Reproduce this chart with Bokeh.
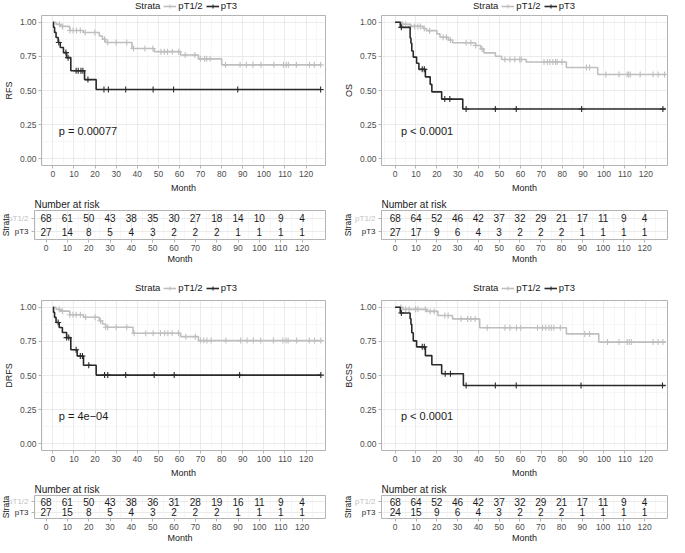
from bokeh.plotting import figure
from bokeh.models import FixedTicker, Legend, LegendItem, Label, ColumnDataSource
from bokeh.layouts import row, column
from bokeh.embed import file_html
from bokeh.resources import INLINE
from bokeh.core.properties import value
import numpy as np

FONT = "Liberation Sans"
GREY = "#bfbfbf"
DARK = "#2a2a2a"
TICKC = "#4d4d4d"
TEXTC = "#1a1a1a"

strata = ["pT1/2", "pT3"]
risk_times = [0, 10, 20, 30, 40, 50, 60, 70, 80, 90, 100, 110, 120]

# ---------------- RFS ----------------
rfs_a_t = [1.5, 3.5, 8, 14.5, 22, 23.5, 25, 37.5, 48, 60.5, 69, 80]
rfs_a_s = [0.985, 0.970, 0.940, 0.925, 0.900, 0.876, 0.852, 0.808, 0.785, 0.760, 0.732, 0.688]
rfs_a_c = [3.1, 4.6, 8.1, 9.6, 11.2, 13, 15.3, 19.9, 24.5, 26, 30, 35, 38.2, 43.6, 47.4,
           51.2, 52.8, 54.3, 56.6, 59.6, 62.7, 67.3, 69.9, 71.9, 72.9, 74.5, 81.8, 88.7,
           91.7, 94.8, 98.6, 104.7, 109.3, 110.6, 111.6, 115.4, 121.6, 123.9, 126.9]
rfs_b_t = [0.3, 0.8, 1.5, 2.5, 3.5, 5, 6.5, 8.5, 15, 20.5]
rfs_b_s = [0.963, 0.926, 0.889, 0.852, 0.815, 0.778, 0.741, 0.645, 0.580, 0.507]
rfs_b_c = [2.8, 6.2, 7.2, 11, 12, 13.3, 14.2, 16.6, 24.2, 26.3, 34.5, 47.5, 57.2, 87.6, 126.9]
rfs_end = 127
rfs_risk_a = [68, 61, 50, 43, 38, 35, 30, 27, 18, 14, 10, 9, 4]
rfs_risk_b = [27, 14, 8, 5, 4, 3, 2, 2, 2, 1, 1, 1, 1]

# ---------------- OS ----------------
os_a_t = [3, 7.5, 13.5, 15, 20, 21.5, 25.5, 27.5, 38.5, 41, 42.5, 48, 51, 62.8, 82, 97]
os_a_s = [0.985, 0.970, 0.955, 0.939, 0.915, 0.890, 0.870, 0.850, 0.830, 0.805, 0.776,
          0.751, 0.727, 0.709, 0.669, 0.617]
os_a_c = [3.6, 5.1, 7.5, 9.3, 10.9, 12.1, 14, 16.5, 23, 24.6, 26.5, 34, 36.3, 38.6, 41.7,
          52.6, 55, 57.3, 59.7, 60.4, 71.3, 72.9, 74.1, 75.5, 76.8, 77.6, 79.9, 91.6, 93.1,
          100.9, 107.2, 111.1, 111.8, 112.6, 117.3, 123.5, 125.9, 129]
os_b_t = [2.5, 7.2, 7.6, 8.0, 8.7, 10.3, 11.4, 14.5, 16.8, 17.6, 22.3, 32.4]
os_b_s = [0.963, 0.885, 0.846, 0.790, 0.745, 0.700, 0.655, 0.600, 0.545, 0.490, 0.437, 0.364]
os_b_c = [3, 13, 14, 23.8, 26.2, 34, 48, 58, 89.3, 128.2]
os_end = 129.5
os_risk_a = [68, 64, 52, 46, 42, 37, 32, 29, 21, 17, 11, 9, 4]
os_risk_b = [27, 17, 9, 6, 4, 3, 2, 2, 2, 1, 1, 1, 1]

# ---------------- DRFS ----------------
drfs_a_t = [1.5, 3.5, 8, 14.5, 22, 23.5, 25, 38, 60.5, 69]
drfs_a_s = [0.985, 0.972, 0.946, 0.927, 0.902, 0.878, 0.854, 0.810, 0.785, 0.756]
drfs_a_c = [3, 4.5, 8, 9.5, 11, 13, 15.5, 20, 22.5, 25, 26, 30, 35, 38.5, 44, 47.5, 51, 53,
            54.5, 56.5, 59.5, 63, 67.5, 70, 71.5, 73, 75, 82, 89, 92, 95, 98.5, 104.5, 109,
            110.5, 111.5, 115.5, 121.5, 124, 127]
drfs_b_t = [0.3, 0.8, 1.5, 3, 4.5, 6.5, 8.5, 11.5, 14.5, 20.5]
drfs_b_s = [0.963, 0.926, 0.889, 0.852, 0.815, 0.778, 0.689, 0.643, 0.575, 0.503]
drfs_b_c = [2.5, 6.5, 7.5, 11, 13, 14, 17, 24.5, 26, 34.5, 48, 57.5, 88.5, 127]
drfs_end = 127
drfs_risk_a = [68, 61, 50, 43, 38, 36, 31, 28, 19, 16, 11, 9, 4]
drfs_risk_b = [27, 15, 8, 5, 4, 3, 2, 2, 2, 1, 1, 1, 1]

# ---------------- BCSS ----------------
bcss_a_t = [3.5, 15, 20.5, 27.5, 40.5, 82, 97.5]
bcss_a_s = [0.985, 0.970, 0.940, 0.915, 0.850, 0.805, 0.745]
bcss_a_c = [2.8, 5.1, 6.7, 9.8, 10.9, 14.5, 16.8, 18.7, 23.8, 25.4, 31.6, 34.7, 36.3, 38.3,
            44.1, 52.6, 55, 58.1, 60.1, 68.2, 70.6, 72.1, 73.7, 74.8, 76, 79.1, 90.8, 93.1,
            101.7, 107.2, 111.1, 112.1, 113.1, 123.5, 125.9, 128.2]
bcss_b_t = [2.5, 7.2, 7.6, 8.0, 8.7, 10.3, 14.5, 17.6, 22.3, 32.7]
bcss_b_s = [0.958, 0.917, 0.875, 0.813, 0.754, 0.710, 0.646, 0.579, 0.513, 0.427]
bcss_b_c = [3, 13, 14, 24, 26.5, 34, 48, 58, 89, 128]
bcss_end = 129.5
bcss_risk_a = [68, 64, 52, 46, 42, 37, 32, 29, 21, 17, 11, 9, 4]
bcss_risk_b = [24, 15, 9, 6, 4, 3, 2, 2, 2, 1, 1, 1, 1]

x_major = list(range(0, 121, 10))
x_minor = list(range(-5, 131, 10))
y_major = [0, 0.25, 0.5, 0.75, 1.0]
y_minor = [0.125, 0.375, 0.625, 0.875]


def style(p, title_standoff):
    p.outline_line_color = "#b3b3b3"
    p.outline_line_width = 1
    for ax in list(p.xaxis) + list(p.yaxis):
        ax.axis_line_color = None
        ax.major_tick_line_color = "#b3b3b3"
        ax.major_tick_out = 3
        ax.major_tick_in = 0
        ax.minor_tick_line_color = None
        ax.major_label_text_font = FONT
        ax.major_label_text_font_size = "8.5px"
        ax.major_label_text_color = TICKC
        ax.major_label_standoff = 1
        ax.axis_label_text_font = FONT
        ax.axis_label_text_font_size = "9px"
        ax.axis_label_text_font_style = "normal"
        ax.axis_label_text_color = TEXTC
        ax.axis_label_standoff = title_standoff
    for g in list(p.xgrid) + list(p.ygrid):
        g.grid_line_color = "#e2e2e2"
        g.grid_line_width = 0.7
        g.minor_grid_line_color = "#efefef"
        g.minor_grid_line_width = 0.5


def surv_at(times, surv, t):
    tt = np.array([0.0] + list(times))
    ss = np.array([1.0] + list(surv))
    idx = np.searchsorted(tt, np.array(t), side="right") - 1
    return ss[idx]


def legend_fig(left, fw, right, h):
    lg = figure(width=left + fw + right, height=h, x_range=(0, 1), y_range=(0, 1),
                x_axis_location=None, y_axis_location=None, toolbar_location=None,
                output_backend="svg", min_border_left=left, min_border_right=right,
                min_border_top=0, min_border_bottom=0, outline_line_color=None)
    lg.grid.visible = False
    inv = lg.line(x=[np.nan], y=[np.nan], line_alpha=0)
    items = [LegendItem(label="Strata", renderers=[inv])]
    for lab, col in zip(strata, [GREY, DARK]):
        lr = lg.line(x=[np.nan], y=[np.nan], line_color=col, line_width=1.6)
        sr = lg.scatter(x=[np.nan], y=[np.nan], marker="cross", size=6, line_color=col,
                        line_width=1.1)
        items.append(LegendItem(label=lab, renderers=[lr, sr]))
    leg = Legend(items=items, location=(int(fw / 2 - 51 - 15), 1), orientation="horizontal",
                 label_text_font=FONT, label_text_font_size="9.5px", label_text_color=TEXTC,
                 glyph_width=13, glyph_height=10, label_height=10, label_width=10,
                 label_standoff=2, spacing=3, padding=0, margin=0,
                 border_line_color=None, background_fill_alpha=0)
    lg.add_layout(leg)
    return lg


def km_fig(ylabel, a_t, a_s, a_c, b_t, b_s, b_c, t_end, xr, pval, left, fw, right, top,
           bottom, fh, lh):
    p = figure(width=left + fw + right, height=top + fh + bottom, x_range=xr,
               y_range=(-0.05, 1.05), toolbar_location=None, output_backend="svg",
               min_border_left=left, min_border_right=right,
               min_border_top=top, min_border_bottom=bottom)
    p.xaxis.ticker = FixedTicker(ticks=x_major, minor_ticks=x_minor)
    p.yaxis.ticker = FixedTicker(ticks=y_major, minor_ticks=y_minor)
    p.yaxis.major_label_overrides = {0: "0.00", 0.25: "0.25", 0.5: "0.50", 0.75: "0.75", 1: "1.00"}
    p.xaxis.axis_label = "Month"
    p.yaxis.axis_label = ylabel
    style(p, 3)
    for tms, sv, cs, col in [(a_t, a_s, a_c, GREY), (b_t, b_s, b_c, DARK)]:
        xs = [0] + list(tms) + [t_end]
        ys = [1.0] + list(sv) + [sv[-1]]
        p.step(x=xs, y=ys, mode="after", line_color=col, line_width=1.6)
        cy = surv_at(tms, sv, cs)
        p.scatter(x=cs, y=cy, marker="cross", size=6, line_color=col, line_width=1.1)
    p.add_layout(Label(x=2.8, y=0.2, text=pval, text_font=FONT, text_font_size="11px",
                       text_color=TEXTC, text_baseline="middle", text_align="left"))
    return column(legend_fig(left, fw, right, lh), p)


def risk_fig(xr, risk_a, risk_b, lw, sx, fw, right, top, bottom, fh):
    p = figure(width=5 + fw + right, height=top + fh + bottom, x_range=xr, y_range=(0.4, 2.6),
               toolbar_location=None, output_backend="svg", title="Number at risk",
               min_border_left=5, min_border_right=right,
               min_border_top=top, min_border_bottom=bottom)
    p.title.text_font = FONT
    p.title.text_font_size = "10px"
    p.title.text_font_style = "normal"
    p.title.text_color = TEXTC
    p.title.align = "left"
    p.title.standoff = 1
    p.xaxis.ticker = FixedTicker(ticks=x_major, minor_ticks=x_minor)
    p.yaxis.ticker = FixedTicker(ticks=[1, 2])
    p.xaxis.axis_label = "Month"
    style(p, 0)
    p.yaxis.major_label_text_font_size = "0px"
    p.yaxis.major_label_standoff = 0
    p.yaxis.major_label_overrides = {1: "", 2: ""}
    for vals, yv in [(risk_a, 2), (risk_b, 1)]:
        src = ColumnDataSource(dict(x=risk_times, y=[yv] * len(risk_times), t=[str(v) for v in vals]))
        p.text(x="x", y="y", text="t", source=src, text_align="center", text_baseline="middle",
               text_font=value(FONT), text_font_size=value("10px"), text_color=TEXTC)

    # strata labels panel to the left
    lf = figure(width=lw, height=top + fh + bottom, x_range=(0, lw), y_range=(0.4, 2.6),
                x_axis_location=None, y_axis_location=None, toolbar_location=None,
                output_backend="svg", min_border_left=0, min_border_right=0,
                min_border_top=top, min_border_bottom=bottom, outline_line_color=None)
    lf.grid.visible = False
    lsrc = ColumnDataSource(dict(x=[lw - 1, lw - 1], y=[2, 1], t=strata, c=[GREY, DARK]))
    lf.text(x="x", y="y", text="t", text_color="c", source=lsrc, text_align="right",
            text_baseline="middle", text_font=value(FONT), text_font_size=value("8px"))
    lf.text(x=[sx], y=[1.5], text=["Strata"], angle=np.pi / 2, text_align="center",
            text_baseline="middle", text_font=value(FONT), text_font_size=value("8.5px"),
            text_color=TEXTC)
    return row(lf, p)


XL_KM = (-5.4, 129.2)
XR_KM = (-6.5, 130.4)
XL_T = (-5.4, 131.0)
XR_T = (-6.6, 131.0)

# left column: frame 291 wide; right column: frame 286 wide
km1 = km_fig("RFS", rfs_a_t, rfs_a_s, rfs_a_c, rfs_b_t, rfs_b_s, rfs_b_c, rfs_end, XL_KM,
             "p = 0.00077", 34, 291, 7, 3, 31, 150, 12)
t1 = risk_fig(XL_T, rfs_risk_a, rfs_risk_b, 29, 5, 291, 7, 14, 43, 29)
km2 = km_fig("DRFS", drfs_a_t, drfs_a_s, drfs_a_c, drfs_b_t, drfs_b_s, drfs_b_c, drfs_end, XL_KM,
             "p = 4e\u221204", 34, 291, 7, 6, 31, 150, 12)
t2 = risk_fig(XL_T, drfs_risk_a, drfs_risk_b, 29, 5, 291, 7, 13, 25, 26)

km3 = km_fig("OS", os_a_t, os_a_s, os_a_c, os_b_t, os_b_s, os_b_c, os_end, XR_KM,
             "p < 0.0001", 49, 286, 2, 3, 31, 150, 12)
t3 = risk_fig(XR_T, os_risk_a, os_risk_b, 44, 15, 286, 2, 14, 43, 29)
km4 = km_fig("BCSS", bcss_a_t, bcss_a_s, bcss_a_c, bcss_b_t, bcss_b_s, bcss_b_c, bcss_end, XR_KM,
             "p < 0.0001", 49, 286, 2, 6, 31, 150, 12)
t4 = risk_fig(XR_T, bcss_risk_a, bcss_risk_b, 44, 15, 286, 2, 13, 25, 26)

layout = row(column(km1, t1, km2, t2), column(km3, t3, km4, t4))

open("out.html", "w").write(file_html(layout, INLINE))
